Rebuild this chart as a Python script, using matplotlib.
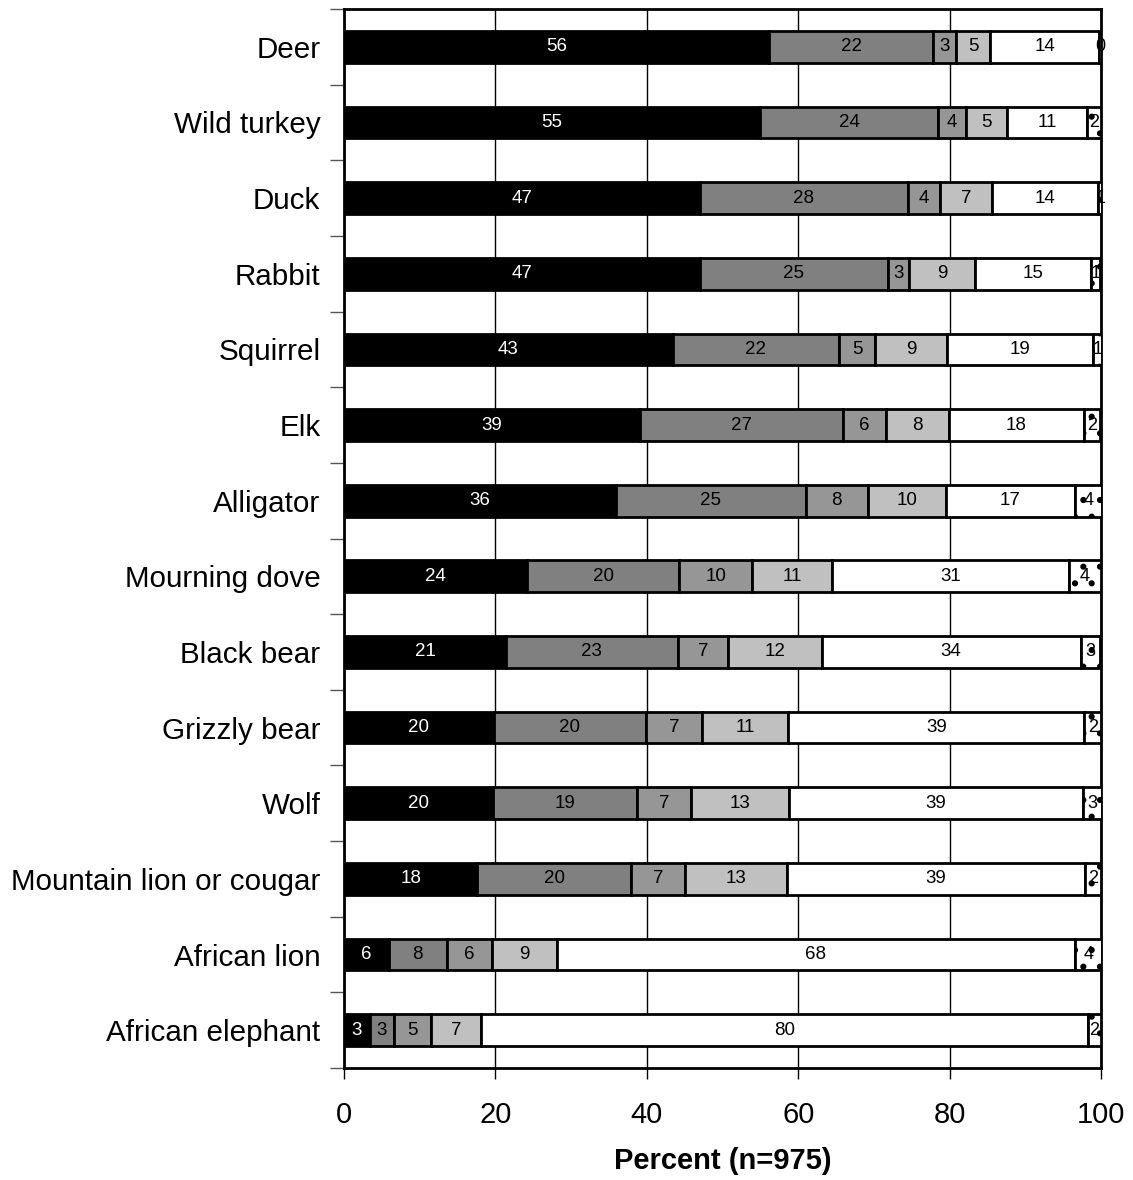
import matplotlib
matplotlib.use("Agg")
import matplotlib.pyplot as plt
import numpy as np

plt.rcParams['font.family'] = ['Liberation Sans', 'DejaVu Sans']
plt.rcParams['hatch.linewidth'] = 2.0

categories = ["Deer", "Wild turkey", "Duck", "Rabbit", "Squirrel", "Elk", "Alligator",
              "Mourning dove", "Black bear", "Grizzly bear", "Wolf",
              "Mountain lion or cougar", "African lion", "African elephant"]

s1 = [56.2, 55.0, 47.0, 47.0, 43.4, 39.1, 35.9, 24.2, 21.4, 19.8, 19.7, 17.6, 5.9, 3.4]
s2 = [21.6, 23.5, 27.5, 24.8, 22.0, 26.8, 25.1, 20.1, 22.7, 20.1, 19.0, 20.3, 7.7, 3.2]
s3 = [3.0, 3.7, 4.2, 2.9, 4.8, 5.7, 8.2, 9.6, 6.6, 7.4, 7.1, 7.2, 5.9, 4.9]
s4 = [4.6, 5.4, 6.9, 8.7, 9.4, 8.3, 10.3, 10.6, 12.4, 11.4, 13.0, 13.4, 8.7, 6.6]
s5 = [14.3, 10.6, 14.0, 15.3, 19.3, 17.8, 17.0, 31.3, 34.2, 39.1, 38.8, 39.4, 68.3, 80.2]
s6 = [0.4, 1.8, 0.6, 1.2, 1.2, 2.2, 3.6, 4.2, 2.6, 2.2, 2.6, 2.1, 3.6, 1.7]

series = [s1, s2, s3, s4, s5, s6]
colors = ["#000000", "#808080", "#969696", "#c0c0c0", "#ffffff", "#ffffff"]
hatches = [None, None, None, None, None, "."]
text_colors = ["white", "black", "black", "black", "black", "black"]
label_sizes = [13.5, 13.5, 13.5, 13.5, 13.5, 13]

W, H = 1133, 1180
fig = plt.figure(figsize=(W / 100, H / 100), dpi=100)
ax = fig.add_axes([344 / W, 1 - 1068 / H, (1101 - 344) / W, (1068 - 9) / H])

n = len(categories)
y = np.arange(n)
left = np.zeros(n)
for vals, c, h, tc, fs in zip(series, colors, hatches, text_colors, label_sizes):
    vals = np.array(vals)
    ax.barh(y, vals, left=left, height=0.42, color=c, edgecolor="black",
            linewidth=2, hatch=h, zorder=3)
    for yi, (l, v) in enumerate(zip(left, vals)):
        ax.text(l + v / 2, yi, f"{int(round(v))}", ha="center", va="center",
                fontsize=fs, color=tc, zorder=4)
    left = left + vals

ax.set_xlim(0, 100)
ax.set_ylim(n - 0.5, -0.5)
ax.set_xticks([0, 20, 40, 60, 80, 100])
ax.tick_params(axis="x", labelsize=21, length=8, width=1, direction="out", pad=16)
ax.set_yticks(np.arange(-0.5, n, 1))
ax.set_yticklabels([])
ax.tick_params(axis="y", which="major", length=10, width=1, color="#555555")
ax.set_yticks(y, minor=True)
ax.set_yticklabels(categories, minor=True)
ax.tick_params(axis="y", which="minor", length=0, labelsize=21.3, pad=17)

ax.xaxis.grid(True, color="black", linewidth=1, zorder=0)
ax.set_axisbelow(True)
for sp in ax.spines.values():
    sp.set_linewidth(2)
    sp.set_color("black")

ax.set_xlabel("Percent (n=975)", fontsize=21, fontweight="bold", labelpad=13)

fig.savefig("out.png", dpi=100)
